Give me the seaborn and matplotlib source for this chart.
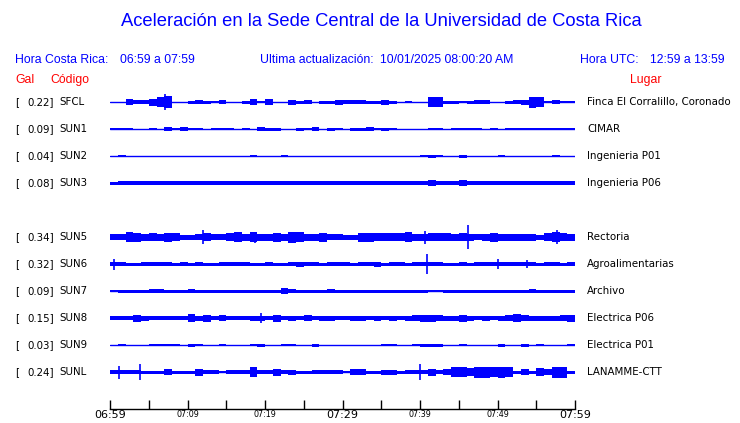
import numpy as np
import matplotlib
matplotlib.use("Agg")
import matplotlib.pyplot as plt
import matplotlib.transforms as mtransforms
import seaborn as sns

# ---------------- data ----------------
codes = ["SFCL", "SUN1", "SUN2", "SUN3", "SUN5", "SUN6", "SUN7", "SUN8", "SUN9", "SUNL"]
peak_gal = [0.22, 0.09, 0.04, 0.08, 0.34, 0.32, 0.09, 0.15, 0.03, 0.24]
places = ["Finca El Corralillo, Coronado", "CIMAR", "Ingenieria P01", "Ingenieria P06",
          "Rectoria", "Agroalimentarias", "Archivo", "Electrica P06", "Electrica P01",
          "LANAMME-CTT"]
row_slot = [0, 1, 2, 3, 5, 6, 7, 8, 9, 10]

tick_minutes = [0, 5, 10, 15, 20, 25, 30, 35, 40, 45, 50, 55, 60]
tick_labels = ["06:59", "", "07:09", "", "07:19", "", "07:29", "", "07:39", "", "07:49", "", "07:59"]
big_ticks = ["06:59", "07:29", "07:59"]

# envelope amplitude per minute (half-height, amplitude units)
env_sfcl = [0, 0, 3, 2, 2, 3.5, 5, 6, 0, 0, 1.5, 2, 1.5, 1.2, 2, 0, 0, 1.5, 3, 1,
            3, 0, 0, 2.5, 1.5, 2, 0, 1.5, 1.5, 2.5, 2, 2, 2, 1.5, 1.5, 2.5, 1.5, 0, 1.2, 0,
            0, 5, 5, 1.5, 1.5, 1, 1.5, 2, 2, 0, 0, 1.5, 2, 2.5, 5.5, 5, 1, 2, 1.2, 1.2]
env_sun1 = [1.2, 1.2, 1.2, 0, 0, 1.2, 0, 1.8, 1, 1.8, 1.2, 1.2, 0, 1.2, 1.2, 1.2, 0, 1, 0, 2,
            1.5, 1.5, 0, 0, 1.5, 1, 2, 0, 1.5, 1, 0, 1.5, 1.5, 2, 1, 1.5, 1, 0, 0, 0,
            0, 1.2, 1.2, 0, 1, 1.2, 1.2, 1, 0, 1, 0, 1.2, 1, 1.3, 1.3, 1.3, 1.2, 1.2, 1.2, 0.8]
env_sun2 = [0, 1.3, 0, 0, 0, 0, 0, 0, 0, 0, 0, 0, 0, 0, 0, 0, 0, 0, 1.2, 0,
            0, 0, 1, 0, 0, 0, 0, 0, 0, 0, 0, 0, 0, 0, 0, 0, 0, 0, 0, 0,
            1, 1.5, 1, 0, 0, 1.5, 0, 0, 0, 0, 1, 0, 0, 0, 0, 0, 0, 1, 0, 0]
env_sun3 = [1.5, 1.8, 1.8, 1.8, 1.8, 1.8, 1.8, 1.8, 1.8, 1.8, 1.8, 1.8, 1.6, 1.8, 1.8, 1.8, 1.8, 1.8, 1.8, 2,
            1.8, 2, 1.8, 1.8, 1.8, 1.8, 1.8, 1.8, 1.8, 1.8, 1.8, 1.8, 1.8, 1.8, 1.8, 1.8, 1.8, 1.6, 1.8, 1.8,
            1.8, 2.8, 2.2, 1.8, 2, 3, 1.8, 1.8, 1.8, 1.8, 1.8, 1.8, 1.8, 1.8, 1.8, 1.8, 1.8, 1.8, 1.8, 1.8]
env_sun5 = [3, 3, 5, 4.5, 3.5, 4, 3.5, 4.5, 4, 2.5, 2.5, 3, 4, 3, 3, 4, 5, 3.5, 5, 3.5,
            3.5, 4.5, 3.5, 5.5, 5, 3.5, 3.5, 4.5, 3, 3, 2.5, 2.5, 4.5, 4.5, 4, 4, 4, 4, 5, 3.5,
            3.5, 4, 4, 4, 3.5, 4, 3.5, 3, 3.5, 4.5, 3.5, 3.5, 3.5, 3.5, 3.5, 2.5, 4, 5, 4, 3.5]
env_sun6 = [2, 2, 1.5, 1.5, 1.7, 1.7, 2.3, 1.7, 1.5, 1.7, 1.5, 1.7, 1.5, 1.5, 1.7, 2, 2, 2, 1.5, 1.5,
            1.7, 1.5, 1.5, 1.7, 2.5, 2, 1.7, 1.5, 1.7, 1.7, 1.7, 1.5, 2, 1.7, 2.5, 1.5, 1.7, 1.7, 1.5, 1.7,
            1.7, 1.7, 1.7, 1.5, 1.5, 1.7, 1.5, 1.7, 1.7, 1.7, 2, 1.7, 1.7, 2.2, 1.7, 1.5, 1.7, 1.7, 1.5, 1.7]
env_sun7 = [1.2, 1.5, 1.5, 1.5, 1.5, 2.3, 2, 1.5, 1.5, 1.5, 2.2, 1.5, 1.5, 1.5, 1.5, 1.5, 1.5, 1.5, 1.5, 1.5,
            1.5, 1.5, 3, 2.2, 1.5, 1.5, 1.5, 1.5, 2, 1.5, 1.5, 1.5, 1.5, 1.5, 1.5, 1.5, 1.5, 1.5, 1.5, 1.5,
            1.5, 1.3, 1.3, 1.5, 1.5, 1.5, 1.5, 1.5, 1.5, 1.5, 1.5, 1.5, 1.5, 1.5, 2, 1.5, 1.5, 1.5, 1.5, 1.5]
env_sun8 = [2, 2, 2, 3.5, 2.5, 2, 2.3, 2.3, 2, 2, 4, 2.5, 3.5, 2.3, 3, 2, 2, 2.2, 2.5, 2.5,
            2.3, 3.5, 2.3, 2.5, 2.3, 3, 2.3, 2.5, 2.5, 2.3, 2, 2.5, 2.5, 2.3, 2.5, 2.3, 2.5, 2.3, 2.5, 3,
            3.5, 3.5, 3, 2.5, 2.5, 3.5, 2.5, 2.3, 2.5, 2.3, 2.5, 3, 4, 3, 2.5, 2.5, 2.5, 2.5, 3, 3.5]
env_sun9 = [0, 1.3, 0, 0, 0, 1.2, 1.2, 1.3, 1.2, 0, 1.5, 1.2, 0, 0, 1, 0, 0, 0, 1.2, 1.5,
            0, 0, 1.2, 1.3, 0, 0, 1.5, 0, 0, 0, 0, 0, 0, 0, 0, 1.2, 1.3, 0, 0, 1.2,
            1.5, 1.5, 1.5, 0, 0, 1.3, 0, 0, 0, 0, 1.5, 0, 0, 1.5, 0, 1.2, 0, 0, 0, 1.2]
env_sunl = [2, 1.7, 1.7, 1.7, 1.5, 1.5, 1.5, 3, 1.5, 1.5, 1.5, 3.5, 2, 2, 1.2, 1.7, 1.7, 1.7, 5, 1.7,
            1.7, 3.5, 1.7, 2.5, 1.5, 1.5, 1.7, 1.7, 1.7, 1.7, 1.2, 3, 3, 1.5, 1.5, 2.5, 2.5, 1.5, 2, 2,
            1.7, 3.5, 1.7, 3, 5, 5, 4, 5.5, 5.5, 5, 5.5, 5, 1.5, 3, 1.5, 4, 3, 5.5, 5.5, 1.5]

# isolated spikes: (minute, amplitude)
spk_sfcl = [(7.1, 8)]
spk_sun5 = [(12.0, 7), (18.7, 5.5), (40.6, 6.5), (46.2, 12), (57.7, 7)]
spk_sun6 = [(0.5, 5.5), (40.9, 10), (50.1, 5), (53.8, 4)]
spk_sun8 = [(19.5, 5.3)]
spk_sunl = [(1.16, 6.5), (3.87, 8), (40.0, 8)]

envelopes = [env_sfcl, env_sun1, env_sun2, env_sun3, env_sun5, env_sun6,
             env_sun7, env_sun8, env_sun9, env_sunl]
spikes = [spk_sfcl, [], [], [], spk_sun5, spk_sun6, [], spk_sun8, [], spk_sunl]

# ---------------- drawing ----------------
W, H = 740, 423
BLUE = "#0000ff"
RED = "#ff0000"
AMP_PER_ROW = 27.0

sns.set_style("white")
plt.rcParams["font.family"] = ["DejaVu Sans"]

fig = plt.figure(figsize=(W / 100, H / 100), dpi=100)
fig.patch.set_facecolor("white")
ax = fig.add_axes([110 / W, 1 - 409 / H, 465 / W, (409 - 90) / H])
ax.set_facecolor("white")

edges = np.arange(61)
for slot, env, spk in zip(row_slot, envelopes, spikes):
    a = np.asarray(env, dtype=float) / AMP_PER_ROW
    a = np.append(a, a[-1])
    sns.lineplot(x=[0, 60], y=[slot, slot], color=BLUE, linewidth=1.0, ax=ax)
    ax.fill_between(edges, slot - a, slot + a, step="post", color=BLUE,
                    linewidth=0, antialiased=False)
    for t, amp in spk:
        ax.vlines(t, slot - amp / AMP_PER_ROW, slot + amp / AMP_PER_ROW,
                  color=BLUE, linewidth=1.2)

ax.set_xlim(0, 60)
ax.set_ylim((409 - 102) / 27.0, (90 - 102) / 27.0)
ax.set_yticks([])
ax.set_xticks(tick_minutes)
ax.set_xticklabels(tick_labels)
for lbl in ax.get_xticklabels():
    lbl.set_fontsize(8.0 if lbl.get_text() in big_ticks else 5.8)
    lbl.set_color("black")
ax.tick_params(axis="x", direction="in", length=6.5, width=1, pad=1, colors="black",
               bottom=True)
for side in ["top", "left", "right"]:
    ax.spines[side].set_visible(False)
ax.spines["bottom"].set_color("black")
ax.spines["bottom"].set_linewidth(1)
ax.set_xlabel("")
ax.set_ylabel("")

# header texts
def ftext(x, y, s, **kw):
    fig.text(x / W, 1 - y / H, s, va="center", **kw)

ftext(381, 22, "Aceleración en la Sede Central de la Universidad de Costa Rica",
      ha="center", color=BLUE, fontsize=13.2, family="Liberation Sans")
hdr = dict(color=BLUE, fontsize=8.8, family="Liberation Sans", ha="left")
ftext(15, 60, "Hora Costa Rica:", **hdr)
ftext(120, 60, "06:59 a 07:59", **hdr)
ftext(260, 60, "Ultima actualización:", **hdr)
ftext(380, 60, "10/01/2025 08:00:20 AM", **hdr)
ftext(580, 60, "Hora UTC:", **hdr)
ftext(650, 60, "12:59 a 13:59", **hdr)
red = dict(color=RED, fontsize=8.8, family="Liberation Sans")
ftext(15, 80, "Gal", ha="left", **red)
ftext(50, 80, "Código", ha="left", **red)
ftext(646, 80, "Lugar", ha="center", **red)

trans = mtransforms.blended_transform_factory(fig.transFigure, ax.transData)
row_font = dict(fontsize=7.4, color="black", va="center", transform=trans)
for slot, code, pk, place in zip(row_slot, codes, peak_gal, places):
    ax.text(15 / W, slot, "[", ha="left", **row_font)
    ax.text(54 / W, slot, f"{pk:.2f}]", ha="right", **row_font)
    ax.text(59 / W, slot, code, ha="left", **row_font)
    ax.text(587 / W, slot, place, ha="left", **row_font)

fig.savefig("out.png", dpi=100, facecolor="white")
